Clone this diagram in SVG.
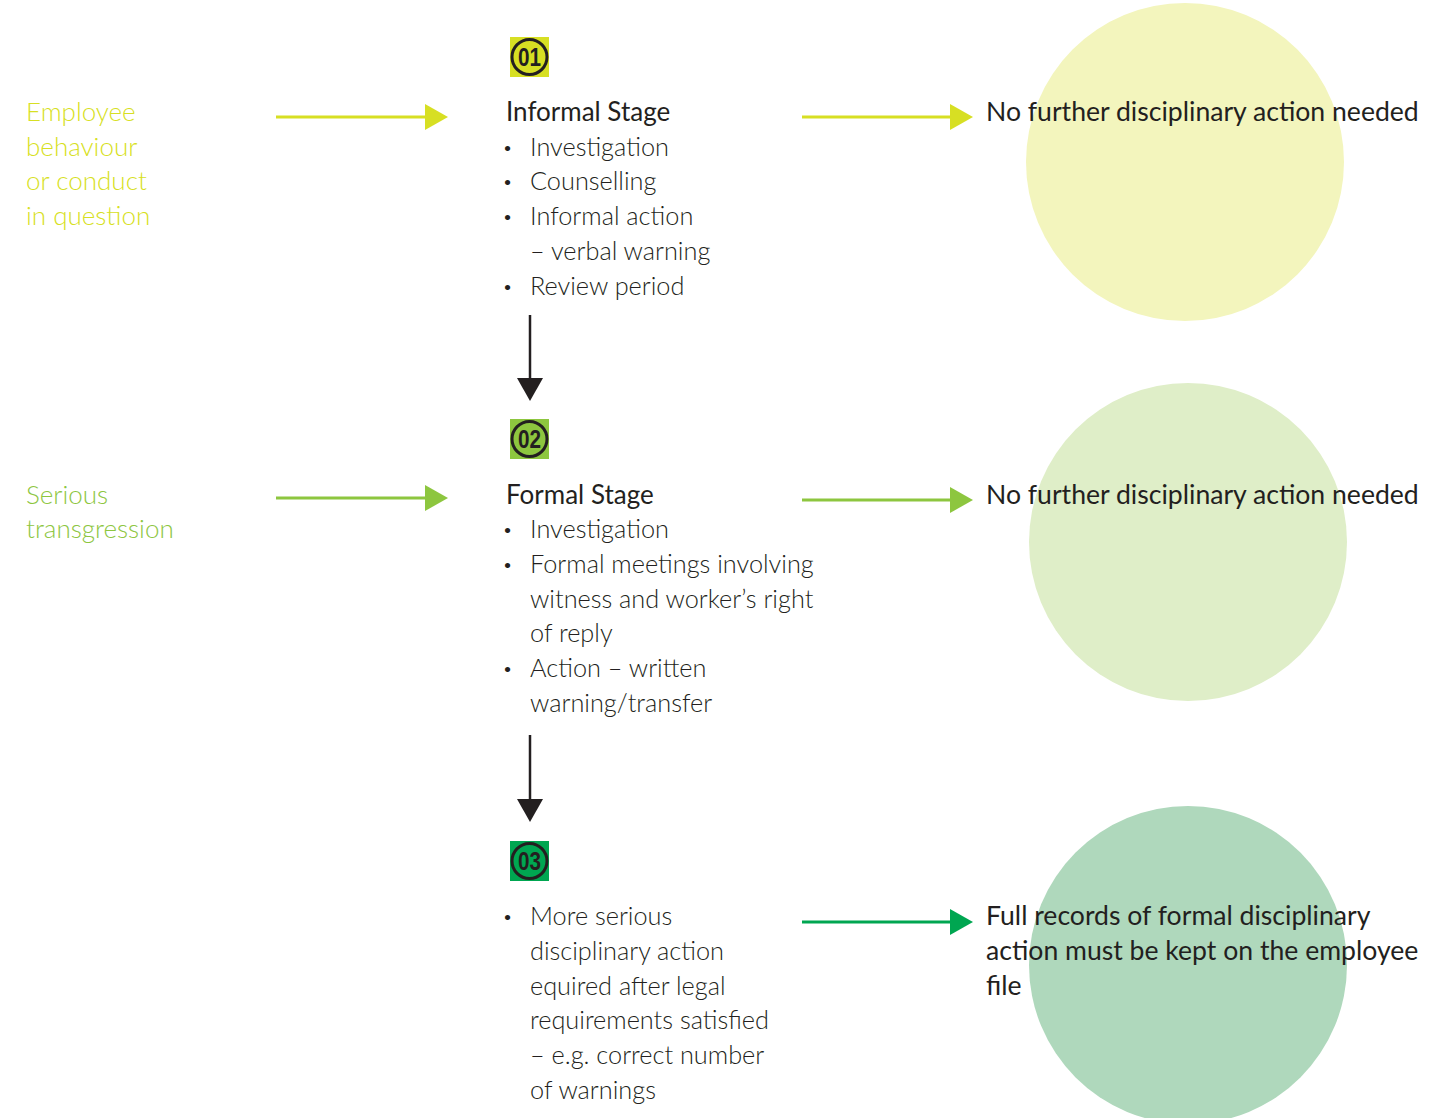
<svg xmlns="http://www.w3.org/2000/svg" width="1446" height="1118" viewBox="0 0 1446 1118">
<style>
.t{font-family:Lato,"Open Sans","Liberation Sans",sans-serif;font-size:26px;}
.body{font-weight:300;fill:#231f20;font-size:25.3px;}
.dot{font-weight:900;}
.head{font-weight:400;fill:#231f20;}
.out{font-weight:400;fill:#231f20;font-size:26.6px;}
.l1{font-weight:300;fill:#d7df23;}
.l2{font-weight:300;fill:#8dc63f;}
.badge{font-family:"Liberation Sans",Arial,sans-serif;font-weight:bold;font-size:25px;fill:#231f20;}
.ring{fill:none;stroke:#231f20;stroke-width:3;}
</style>
<defs>
<marker id="mY" viewBox="0 0 23 26" refX="0" refY="13" markerWidth="23" markerHeight="26" markerUnits="userSpaceOnUse" orient="auto"><path d="M0,0 L23,13 L0,26 Z" fill="#d7df23"/></marker>
<marker id="mG" viewBox="0 0 23 26" refX="0" refY="13" markerWidth="23" markerHeight="26" markerUnits="userSpaceOnUse" orient="auto"><path d="M0,0 L23,13 L0,26 Z" fill="#8dc63f"/></marker>
<marker id="mD" viewBox="0 0 23 26" refX="0" refY="13" markerWidth="23" markerHeight="26" markerUnits="userSpaceOnUse" orient="auto"><path d="M0,0 L23,13 L0,26 Z" fill="#00a651"/></marker>
<marker id="mK" viewBox="0 0 23 26" refX="0" refY="13" markerWidth="23" markerHeight="26" markerUnits="userSpaceOnUse" orient="auto"><path d="M0,0 L23,13 L0,26 Z" fill="#231f20"/></marker>
</defs>
<rect width="1446" height="1118" fill="#ffffff"/>

<g id="circles">
<circle cx="1185" cy="162" r="159" fill="#f3f5bd"/>
<circle cx="1188" cy="542" r="159" fill="#dfeec8"/>
<circle cx="1188" cy="965" r="159" fill="#afd8bc"/>
</g>

<g id="connectors">
<line x1="276" y1="117" x2="425" y2="117" stroke="#d7df23" stroke-width="3" marker-end="url(#mY)"/>
<line x1="802" y1="117" x2="950" y2="117" stroke="#d7df23" stroke-width="3" marker-end="url(#mY)"/>
<line x1="276" y1="498" x2="425" y2="498" stroke="#8dc63f" stroke-width="3" marker-end="url(#mG)"/>
<line x1="802" y1="500" x2="950" y2="500" stroke="#8dc63f" stroke-width="3" marker-end="url(#mG)"/>
<line x1="802" y1="922" x2="950" y2="922" stroke="#00a651" stroke-width="3" marker-end="url(#mD)"/>
<line x1="530" y1="315" x2="530" y2="378" stroke="#231f20" stroke-width="2.5" marker-end="url(#mK)"/>
<line x1="530" y1="735" x2="530" y2="799" stroke="#231f20" stroke-width="2.5" marker-end="url(#mK)"/>
</g>

<g id="input1">
<text class="t l1"><tspan x="26" y="121">Employee</tspan><tspan x="26" y="156">behaviour</tspan><tspan x="26" y="190">or conduct</tspan><tspan x="26" y="225">in question</tspan></text>
</g>
<g id="input2">
<text class="t l2"><tspan x="26" y="504">Serious</tspan><tspan x="26" y="538">transgression</tspan></text>
</g>

<g id="badge1">
<rect x="510" y="37" width="39" height="40" fill="#d7df23"/>
<circle cx="529.5" cy="57" r="17.5" class="ring"/>
<text class="badge" x="518" y="66" textLength="23" lengthAdjust="spacingAndGlyphs">01</text>
</g>
<g id="badge2">
<rect x="510" y="419" width="39" height="40" fill="#8dc63f"/>
<circle cx="529.5" cy="439" r="17.5" class="ring"/>
<text class="badge" x="518" y="448" textLength="23" lengthAdjust="spacingAndGlyphs">02</text>
</g>
<g id="badge3">
<rect x="510" y="841" width="39" height="40" fill="#00a651"/>
<circle cx="529.5" cy="861" r="17.5" class="ring"/>
<text class="badge" x="518" y="870" textLength="23" lengthAdjust="spacingAndGlyphs">03</text>
</g>

<g id="stage1">
<text class="t head" x="506" y="121">Informal Stage</text>
<text class="t body">
<tspan class="dot" x="504" y="156">·</tspan><tspan x="530" y="156">Investigation</tspan>
<tspan class="dot" x="504" y="190">·</tspan><tspan x="530" y="190">Counselling</tspan>
<tspan class="dot" x="504" y="225">·</tspan><tspan x="530" y="225">Informal action</tspan>
<tspan x="530" y="260">– verbal warning</tspan>
<tspan class="dot" x="504" y="295">·</tspan><tspan x="530" y="295">Review period</tspan>
</text>
</g>

<g id="stage2">
<text class="t head" x="506" y="504">Formal Stage</text>
<text class="t body">
<tspan class="dot" x="504" y="538">·</tspan><tspan x="530" y="538">Investigation</tspan>
<tspan class="dot" x="504" y="573">·</tspan><tspan x="530" y="573">Formal meetings involving</tspan>
<tspan x="530" y="608">witness and worker’s right</tspan>
<tspan x="530" y="642">of reply</tspan>
<tspan class="dot" x="504" y="677">·</tspan><tspan x="530" y="677">Action – written</tspan>
<tspan x="530" y="712">warning/transfer</tspan>
</text>
</g>

<g id="stage3">
<text class="t body">
<tspan class="dot" x="504" y="925">·</tspan><tspan x="530" y="925">More serious</tspan>
<tspan x="530" y="960">disciplinary action</tspan>
<tspan x="530" y="995">equired after legal</tspan>
<tspan x="530" y="1029">requirements satisfied</tspan>
<tspan x="530" y="1064">– e.g. correct number</tspan>
<tspan x="530" y="1099">of warnings</tspan>
</text>
</g>

<g id="outcome1">
<text class="t out" x="986" y="121">No further disciplinary action needed</text>
</g>
<g id="outcome2">
<text class="t out" x="986" y="504">No further disciplinary action needed</text>
</g>
<g id="outcome3">
<text class="t out"><tspan x="986" y="925">Full records of formal disciplinary</tspan><tspan x="986" y="960">action must be kept on the employee</tspan><tspan x="986" y="995">file</tspan></text>
</g>
</svg>
